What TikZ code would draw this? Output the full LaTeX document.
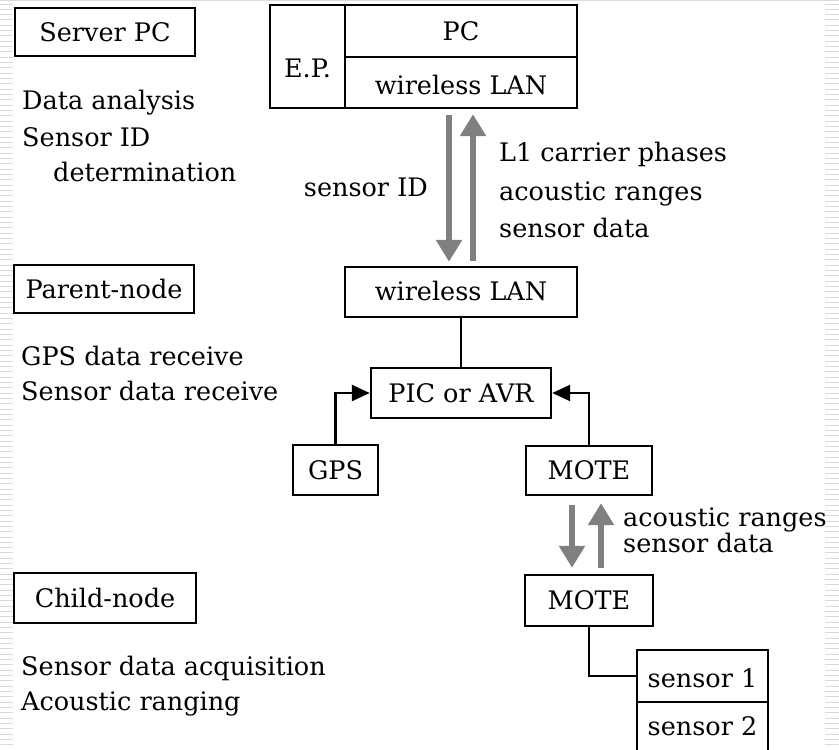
\documentclass[tikz,border=0pt]{standalone}
\usepackage{fontspec}
\setmainfont{DejaVu Serif}
\usetikzlibrary{arrows.meta,calc}
\definecolor{flowgray}{RGB}{128,128,128}
\definecolor{stripe}{RGB}{218,218,218}
\begin{document}
\begin{tikzpicture}[x=1pt,y=-1pt,
  font=\fontsize{25.5}{30}\selectfont,
  box/.style={draw, line width=2.4pt, inner sep=0pt, text height=20pt, text depth=2pt},
  txt/.style={inner sep=0pt, anchor=base west},
  link/.style={line width=2.4pt},
  feed/.style={line width=2.4pt, -{Triangle[length=18pt,width=16pt]}},
  flow/.style={draw=flowgray, line width=6pt, -{Triangle[length=22pt,width=25pt]}}]

\useasboundingbox (0,0) rectangle (839,750);

% slide background: faint rule at the top and striped margins
\draw[stripe, line width=1pt] (0,0.5) -- (839,0.5);
\foreach \k in {0,...,140} {
  \draw[stripe, line width=1pt] (0,{4+5.33*\k}) -- (13,{4+5.33*\k});
  \draw[stripe, line width=1pt] (825,{4+5.33*\k}) -- (839,{4+5.33*\k});
}

% tier captions on the left
\node[box, minimum width=180pt, minimum height=48pt] (srv) at (105,32) {Server PC};
\node[box, minimum width=180pt, minimum height=48pt] (par) at (104,289) {Parent-node};
\node[box, minimum width=182pt, minimum height=50pt] (chi) at (105,598) {Child-node};

\node[txt] (t1) at (22,109) {Data analysis};
\node[txt] (t2) at (22,146) {Sensor ID};
\node[txt] (t3) at (53,181) {determination};
\node[txt] (t4) at (21,365) {GPS data receive};
\node[txt] (t5) at (21,400) {Sensor data receive};
\node[txt] (t6) at (21,675) {Sensor data acquisition};
\node[txt] (t7) at (21,710) {Acoustic ranging};

% server PC block
\node[box, minimum width=75pt, minimum height=103pt, text height=43pt] (ep) at (307.5,56.5) {E.P.};
\node[box, minimum width=232pt, minimum height=52pt] (pc) at (461,31) {PC};
\node[box, minimum width=232pt, minimum height=51pt, text height=25pt] (lan1) at (461,82.5) {wireless LAN};

% parent node
\node[box, minimum width=232pt, minimum height=50pt, text height=18pt] (lan2) at (461,292) {wireless LAN};
\node[box, minimum width=180pt, minimum height=50pt] (pic) at (461,393) {PIC or AVR};
\node[box, minimum width=85pt, minimum height=50pt] (gps) at (335.5,470) {GPS};
\node[box, minimum width=126pt, minimum height=49pt] (mote1) at (589,470.5) {MOTE};

% child node
\node[box, minimum width=128pt, minimum height=51pt] (mote2) at (589,600.5) {MOTE};
\node[box, minimum width=131pt, minimum height=52pt, text height=24pt] (s1) at (702.5,676) {sensor 1};
\node[box, minimum width=131pt, minimum height=52pt, text height=16pt] (s2) at (702.5,728) {sensor 2};

% wiring
\draw[link] (lan2.south) -- (pic.north);
\draw[feed] (gps.north) |- (pic.west);
\draw[feed] (mote1.north) |- (pic.east);
\draw[link] (mote2.south) |- (s1.west);

% data flows
\draw[flow] ($(lan1.south)+(-12,6)$) -- ($(lan2.north)+(-12,-4)$);
\draw[flow] ($(lan2.north)+(12,-5)$) -- ($(lan1.south)+(12,5)$);
\draw[flow] ($(mote1.south)+(-17,9)$) -- ($(mote2.north)+(-17,-6)$);
\draw[flow] ($(mote2.north)+(12,-6)$) -- ($(mote1.south)+(12,7)$);

\node[inner sep=0pt, anchor=base east] (l0) at (428,196) {sensor ID};
\node[txt] (l1) at (499,161) {L1 carrier phases};
\node[txt] (l2) at (499,200) {acoustic ranges};
\node[txt] (l3) at (499,237) {sensor data};
\node[txt] (l4) at (623,526) {acoustic ranges};
\node[txt] (l5) at (623,552) {sensor data};
\end{tikzpicture}
\end{document}
